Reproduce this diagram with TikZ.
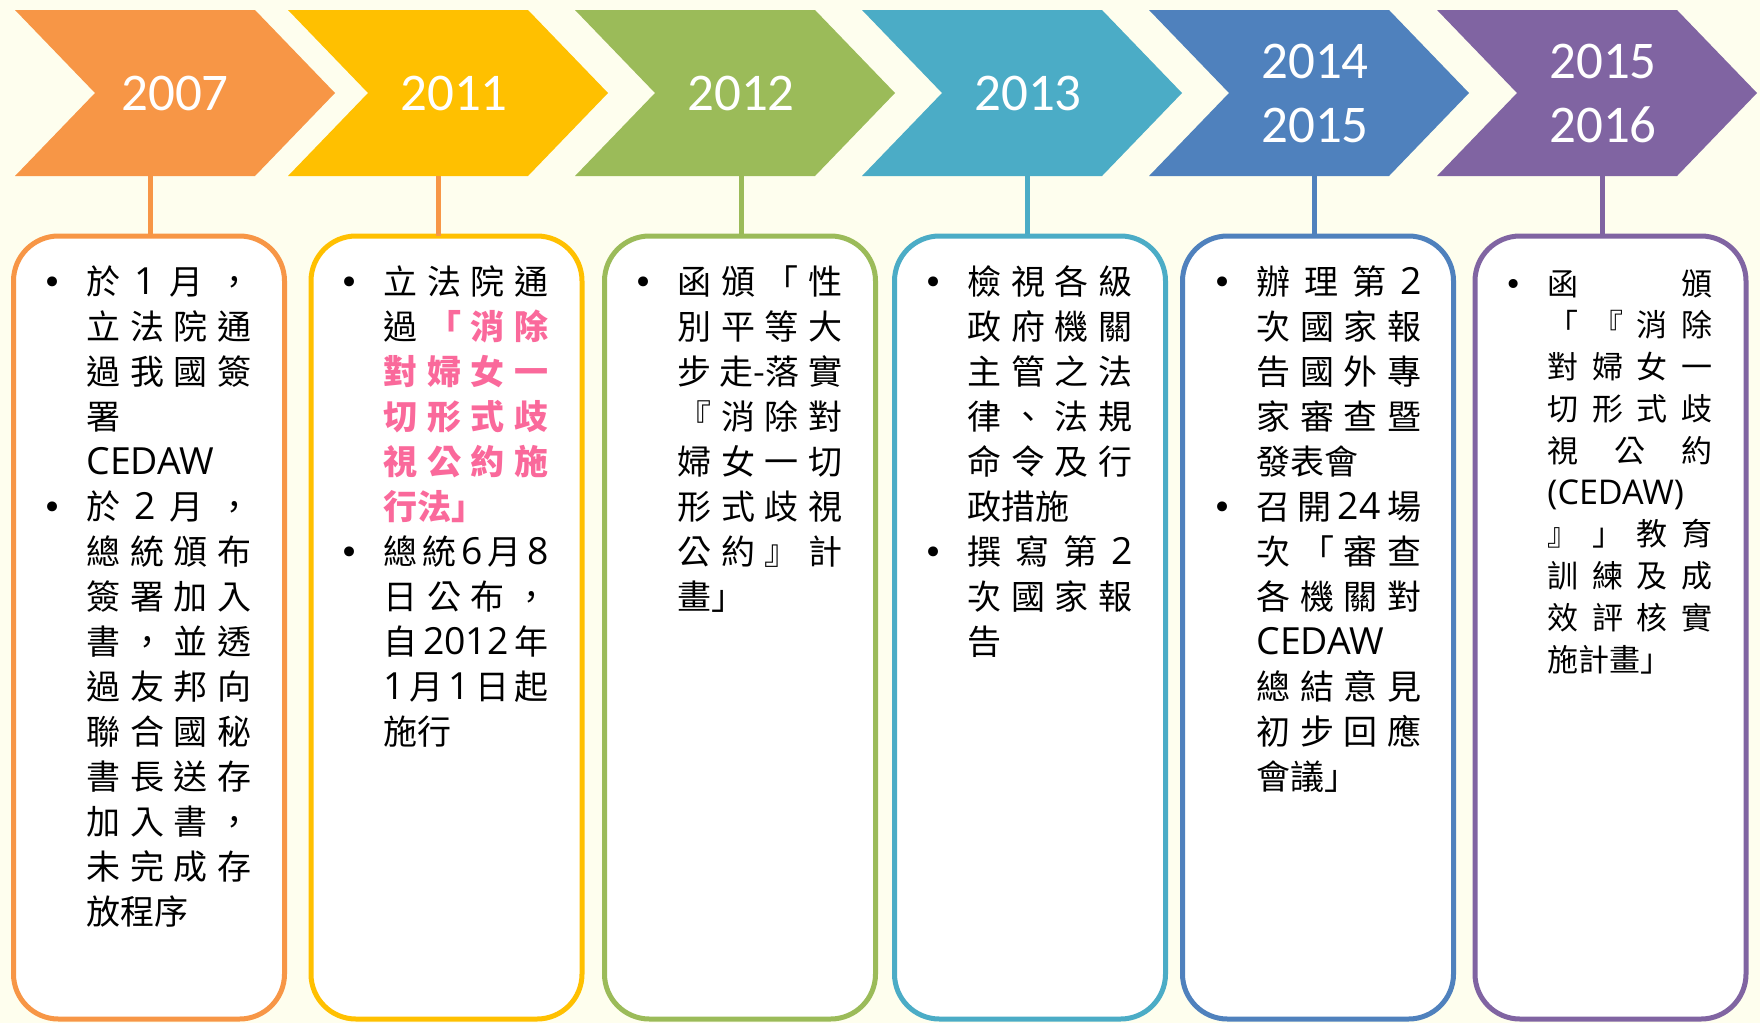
\documentclass[tikz,border=0pt]{standalone}
\usepackage{fontspec}
\setmainfont{Noto Sans CJK TC}
\newfontfamily\latfont[Scale=1.1]{Open Sans}
\newfontfamily\yearfont{Carlito}
\newfontfamily\bulfont{DejaVu Sans}
\usetikzlibrary{calc}
\newdimen\px \px=0.5pt
\definecolor{cBg}{RGB}{254,254,238}
\definecolor{cOrange}{HTML}{F79646}
\definecolor{cYellow}{HTML}{FFC000}
\definecolor{cGreen}{HTML}{9BBB59}
\definecolor{cTeal}{HTML}{4BACC6}
\definecolor{cBlue}{HTML}{4F81BD}
\definecolor{cPurple}{HTML}{8064A2}
\definecolor{cPink}{RGB}{250,105,155}
\newcommand\lat[1]{{\latfont #1}}
\newcommand\pk{\color{cPink}\bfseries}
\newcommand\B{\leavevmode\llap{\makebox[34\px]{\bulfont •}\hspace{17\px}}}
\def\JLa#1{#1\JLb}
\def\JLb#1{\ifx\relax#1\else\hfil#1\expandafter\JLb\fi}
\newcommand\JL[1]{\makebox[\linewidth][s]{\JLa#1\relax}}
\newcommand\drawchev[2]{\fill[#2] (#1.north west) -- ($(#1.north east)+(-80,0)$) -- (#1.east) -- ($(#1.south east)+(-80,0)$) -- (#1.south west) -- ($(#1.west)+(80,0)$) -- cycle;}
\tikzset{
  chevbox/.style={minimum width=320\px, minimum height=166\px, inner sep=0pt, outer sep=0pt, draw=none},
  year/.style={text=white, font=\yearfont\fontsize{26.5pt}{32pt}\selectfont, align=center, inner sep=0pt},
  tbox/.style={draw, fill=white, line width=5\px, rounded corners=45\px, minimum width=271\px, minimum height=783\px, outer sep=0pt, inner sep=0pt},
  conn/.style={line width=5\px},
  body/.style={anchor=base west, inner sep=0pt, font=\fontsize{17pt}{22.5pt}\selectfont},
  bodysmall/.style={anchor=base west, inner sep=0pt, font=\fontsize{15.5pt}{20.9pt}\selectfont},
}
\begin{document}
\begin{tikzpicture}[x=0.5pt, y=-0.5pt]
\fill[cBg] (0,0) rectangle (1760,1023);
\useasboundingbox (0,0) rectangle (1760,1023);

% chevrons
\node[chevbox] (c1) at (175,93) {};
\node[chevbox] (c2) at (448,93) {};
\node[chevbox] (c3) at (735,93) {};
\node[chevbox] (c4) at (1022,93) {};
\node[chevbox] (c5) at (1309,93) {};
\node[chevbox] (c6) at (1597,93) {};
\drawchev{c1}{cOrange}
\drawchev{c2}{cYellow}
\drawchev{c3}{cGreen}
\drawchev{c4}{cTeal}
\drawchev{c5}{cBlue}
\drawchev{c6}{cPurple}
\node[year] (y1) at (c1.center) {2007};
\node[year] (y2) at ($(c2.center)+(6,0)$) {2011};
\node[year] (y3) at ($(c3.center)+(6,0)$) {2012};
\node[year] (y4) at ($(c4.center)+(6,0)$) {2013};
\node[year] (y5) at ($(c5.center)+(6,0)$) {2014\\2015};
\node[year] (y6) at ($(c6.center)+(6,0)$) {2015\\2016};

% boxes
\node[tbox, draw=cOrange] (b1) at (149,627.5) {};
\node[tbox, draw=cYellow] (b2) at (446.5,627.5) {};
\node[tbox, draw=cGreen] (b3) at (740,627.5) {};
\node[tbox, draw=cTeal] (b4) at (1030,627.5) {};
\node[tbox, draw=cBlue] (b5) at (1318,627.5) {};
\node[tbox, draw=cPurple] (b6) at (1610.5,627.5) {};

% connectors
\draw[conn, cOrange] ($(b1.north)+(1,0)$) -- ($(b1.north |- c1.south)+(1,0)$);
\draw[conn, cOrange] ($(b2.north)+(-8.5,0)$) -- ($(b2.north |- c2.south)+(-8.5,0)$);
\draw[conn, cGreen] ($(b3.north)+(1,0)$) -- ($(b3.north |- c3.south)+(1,0)$);
\draw[conn, cTeal] ($(b4.north)+(-3,0)$) -- ($(b4.north |- c4.south)+(-3,0)$);
\draw[conn, cBlue] ($(b5.north)+(-4,0)$) -- ($(b5.north |- c5.south)+(-4,0)$);
\draw[conn, cPurple] ($(b6.north)+(-8.5,0)$) -- ($(b6.north |- c6.south)+(-8.5,0)$);

% texts
\node[body] (t1) at (86,294) {\parbox[t]{165\px}{%
\B\JL{於 {\lat{1}} 月 ，}\\
\JL{立 法 院 通}\\
\JL{過 我 國 簽}\\
署\\
\lat{CEDAW}\\
\B\JL{於 {\lat{2}} 月 ，}\\
\JL{總 統 頒 布}\\
\JL{簽 署 加 入}\\
\JL{書 ， 並 透}\\
\JL{過 友 邦 向}\\
\JL{聯 合 國 秘}\\
\JL{書 長 送 存}\\
\JL{加 入 書 ，}\\
\JL{未 完 成 存}\\
放程序}};

\node[body] (t2) at (383,294) {\parbox[t]{165\px}{%
\B\JL{立 法 院 通}\\
\JL{過 {\pk 「} 消 除}\\
\JL{{\pk 對} 婦 女 一}\\
\JL{{\pk 切} 形 式 歧}\\
\JL{{\pk 視} 公 約 施}\\
{\pk 行法」}\\
\B\JL{總 統 {\lat{6}} 月 {\lat{8}}}\\
\JL{日 公 布 ，}\\
\JL{自 {\lat{2012}} 年}\\
\JL{{\lat{1}} 月 {\lat{1}} 日 起}\\
施行}};

\node[body] (t3) at (677,294) {\parbox[t]{165\px}{%
\B\JL{函 頒 「 性}\\
\JL{別 平 等 大}\\
\JL{步 {走-落} 實}\\
\JL{『 消 除 對}\\
\JL{婦 女 一 切}\\
\JL{形 式 歧 視}\\
\JL{公 約 』 計}\\
畫」}};

\node[body] (t4) at (967,294) {\parbox[t]{165\px}{%
\B\JL{檢 視 各 級}\\
\JL{政 府 機 關}\\
\JL{主 管 之 法}\\
\JL{律 、 法 規}\\
\JL{命 令 及 行}\\
政措施\\
\B\JL{撰 寫 第 {\lat{2}}}\\
\JL{次 國 家 報}\\
告}};

\node[body] (t5) at (1256,294) {\parbox[t]{165\px}{%
\B\JL{辦 理 第 {\lat{2}}}\\
\JL{次 國 家 報}\\
\JL{告 國 外 專}\\
\JL{家 審 查 暨}\\
發表會\\
\B\JL{召 開 {\lat{24}} 場}\\
\JL{次 「 審 查}\\
\JL{各 機 關 對}\\
\lat{CEDAW}\\
\JL{總 結 意 見}\\
\JL{初 步 回 應}\\
會議」}};

\node[bodysmall] (t6) at (1547,295) {\parbox[t]{165\px}{%
\B\JL{函 頒}\\
\JL{「 『 消 除}\\
\JL{對 婦 女 一}\\
\JL{切 形 式 歧}\\
\JL{視 公 約}\\
\lat{(CEDAW)}\\
\JL{』 」 教 育}\\
\JL{訓 練 及 成}\\
\JL{效 評 核 實}\\
施計畫」}};
\end{tikzpicture}
\end{document}
